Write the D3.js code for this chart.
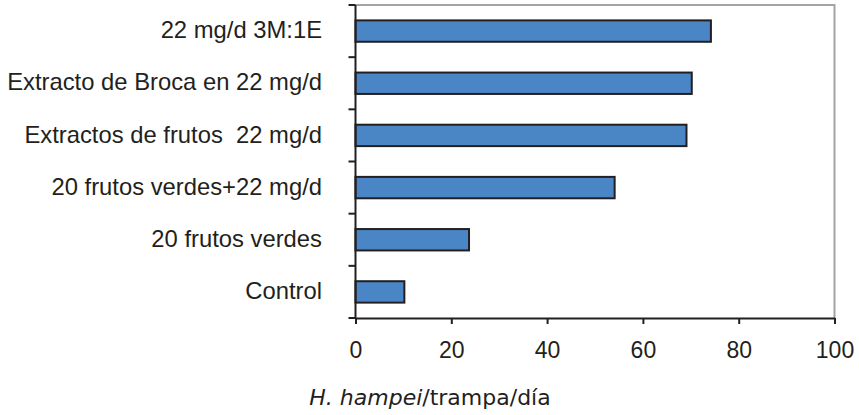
<!DOCTYPE html>
<html>
<head>
<meta charset="utf-8">
<script src="https://cdn.jsdelivr.net/npm/d3@7"></script>
<style>
  body { margin: 0; background: #fff; }
  text { fill: #231f20; }
</style>
</head>
<body>
<svg id="chart" width="859" height="415"></svg>
<script>
// Chart data
const categories = [
    "22 mg/d 3M:1E",
    "Extracto de Broca en 22 mg/d",
    "Extractos de frutos  22 mg/d",
    "20 frutos verdes+22 mg/d",
    "20 frutos verdes",
    "Control"
];
const values = [74.2, 70.2, 69.1, 54.1, 23.7, 10.2];
const xTicks = [0, 20, 40, 60, 80, 100];
const xTitleItalic = "H. hampei";
const xTitleRest = "/trampa/día";

const rows = categories.map((c, i) => ({ cat: c, val: values[i] }));

// Plot area
const plotLeft = 355.5, plotRight = 834.5, plotTop = 5, plotBottom = 318;
const svg = d3.select("#chart");

const x = d3.scaleLinear().domain([0, 100]).range([plotLeft, plotRight]);
const y = d3.scaleBand().domain(categories).range([plotTop, plotBottom])
    .paddingInner(0.59).paddingOuter(0.295);

// Gray frame on top and right
svg.append("path")
    .attr("d", `M${plotLeft},${plotTop} H${plotRight} V${plotBottom}`)
    .attr("fill", "none")
    .attr("stroke", "#a3a3a3")
    .attr("stroke-width", 2);

// Bars
svg.selectAll(".bar")
    .data(rows)
    .enter().append("rect")
    .attr("class", "bar")
    .attr("x", x(0))
    .attr("y", d => y(d.cat))
    .attr("width", d => x(d.val) - x(0))
    .attr("height", y.bandwidth())
    .attr("fill", "#4a86c5")
    .attr("stroke", "#231f20")
    .attr("stroke-width", 2);

// Bottom axis
const xAxis = d3.axisBottom(x).tickValues(xTicks).tickSize(6).tickPadding(18).tickSizeOuter(0);
const gx = svg.append("g")
    .attr("transform", `translate(0,${plotBottom})`)
    .call(xAxis);
gx.select(".domain").attr("stroke", "#231f20").attr("stroke-width", 2);
gx.selectAll(".tick line").attr("stroke", "#231f20").attr("stroke-width", 2);
gx.selectAll(".tick text")
    .attr("font-family", "Liberation Sans, Arial, sans-serif")
    .attr("font-size", 23)
    .attr("fill", "#231f20");

// Left axis: ticks at band boundaries
const yEdges = d3.range(categories.length + 1).map(i => plotTop + i * y.step());
const gy = svg.append("g");
gy.append("line")
    .attr("x1", plotLeft).attr("x2", plotLeft)
    .attr("y1", plotTop).attr("y2", plotBottom + 1)
    .attr("stroke", "#231f20").attr("stroke-width", 2);
gy.selectAll(".ytick")
    .data(yEdges)
    .enter().append("line")
    .attr("class", "ytick")
    .attr("x1", plotLeft - 7).attr("x2", plotLeft)
    .attr("y1", d => d).attr("y2", d => d)
    .attr("stroke", "#231f20").attr("stroke-width", 2);

// Category labels
svg.selectAll(".cat")
    .data(rows)
    .enter().append("text")
    .attr("class", "cat")
    .attr("x", 322)
    .attr("y", d => y(d.cat) + y.bandwidth() / 2)
    .attr("dy", "0.3em")
    .attr("text-anchor", "end")
    .attr("font-family", "Liberation Sans, Arial, sans-serif")
    .attr("font-size", 23.8)
    .style("white-space", "pre")
    .text(d => d.cat);

// X title
const title = svg.append("text")
    .attr("x", 430)
    .attr("y", 405)
    .attr("text-anchor", "middle")
    .attr("font-family", "DejaVu Sans, sans-serif")
    .attr("font-size", 22);
title.append("tspan").attr("font-style", "italic").text(xTitleItalic);
title.append("tspan").text(xTitleRest);
</script>
</body>
</html>
